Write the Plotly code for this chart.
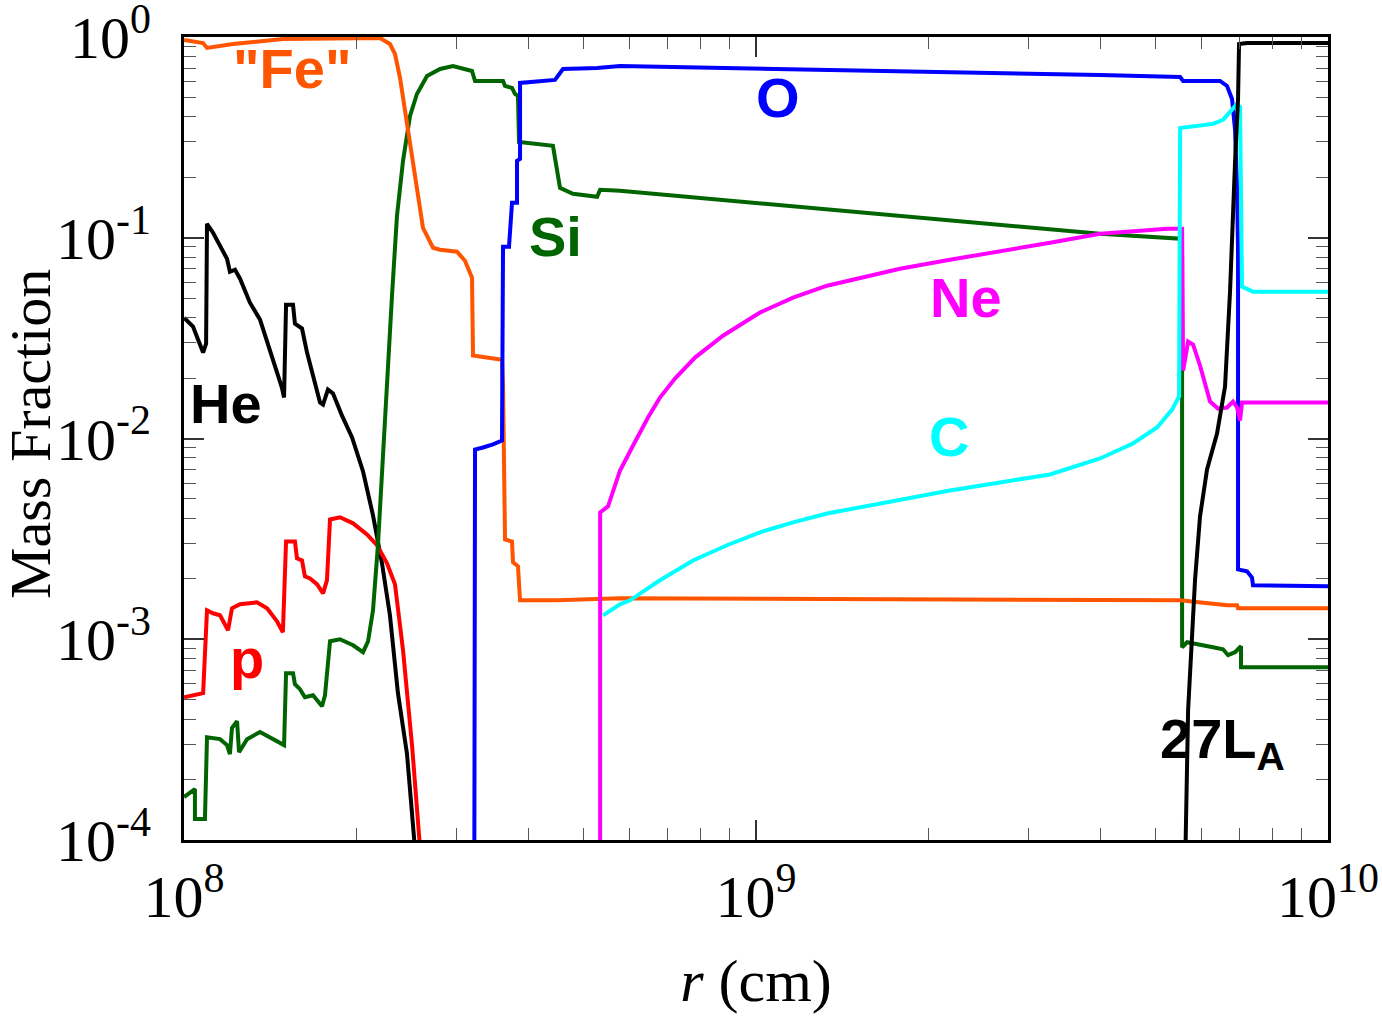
import plotly.graph_objects as go

# radius in units of 1e8 cm, mass fractions
he_r = [1.0, 1.037, 1.058, 1.080, 1.093, 1.097, 1.124, 1.189, 1.203, 1.228, 1.253, 1.304, 1.358, 1.414,
        1.483, 1.496, 1.508, 1.551, 1.563, 1.608, 1.641, 1.729, 1.750, 1.785, 1.822, 1.889, 1.967, 2.056,
        2.140, 2.219, 2.291, 2.366, 2.454, 2.544]
he_x = [0.0400, 0.0361, 0.0311, 0.0268, 0.0297, 0.1174, 0.1059, 0.0786, 0.0677, 0.0693, 0.0625, 0.0475,
        0.0391, 0.0274, 0.01794, 0.0160, 0.0464, 0.0464, 0.0373, 0.0353, 0.0268, 0.0151, 0.01476, 0.01753,
        0.01675, 0.0130, 0.01012, 6.85e-3, 4.14e-3, 2.39e-3, 1.316e-3, 5.39e-4, 2.68e-4, 7.9e-5]

p_r = [1.0, 1.037, 1.080, 1.097, 1.124, 1.156, 1.194, 1.213, 1.253, 1.341, 1.397, 1.454, 1.489, 1.508,
       1.563, 1.576, 1.608, 1.627, 1.661, 1.709, 1.750, 1.778, 1.800, 1.874, 1.975, 2.089, 2.175, 2.264,
       2.338, 2.415, 2.504, 2.596]
p_x = [5.14e-4, 5.26e-4, 5.39e-4, 1.394e-3, 1.347e-3, 1.316e-3, 1.109e-3, 1.426e-3, 1.493e-3, 1.528e-3,
       1.426e-3, 1.229e-3, 1.083e-3, 3.07e-3, 3.07e-3, 2.53e-3, 2.47e-3, 2.06e-3, 2.01e-3, 1.877e-3,
       1.694e-3, 1.966e-3, 3.95e-3, 4.05e-3, 3.78e-3, 3.33e-3, 2.94e-3, 2.39e-3, 1.877e-3, 8.82e-4,
       2.97e-4, 7.95e-5]

si_r = [1.0, 1.045, 1.045, 1.088, 1.097, 1.156, 1.189, 1.203, 1.213, 1.238, 1.248, 1.289, 1.358, 1.431,
        1.496, 1.508, 1.551, 1.563, 1.595, 1.627, 1.681, 1.743, 1.764, 1.800, 1.874, 1.975, 2.056, 2.098,
        2.140, 2.183, 2.228, 2.273, 2.310, 2.357, 2.415, 2.484, 2.554, 2.660, 2.803, 2.953, 3.188, 3.227,
        3.612, 3.641, 3.745, 3.790, 3.836, 3.852, 4.416, 4.543, 4.786, 5.275, 5.339, 5.785, 39.94, 55.14,
        55.58, 55.58, 56.71, 62.95, 65.54, 66.87, 68.79, 70.46, 70.46, 100.0]
si_x = [1.637e-4, 1.793e-4, 1.272e-4, 1.272e-4, 3.25e-4, 3.18e-4, 2.97e-4, 2.68e-4, 3.61e-4, 3.91e-4,
        2.74e-4, 3.18e-4, 3.45e-4, 3.18e-4, 2.97e-4, 6.77e-4, 6.77e-4, 5.97e-4, 5.64e-4, 5.14e-4, 5.26e-4,
        4.64e-4, 5.26e-4, 9.77e-4, 1.0e-3, 9.33e-4, 8.62e-4, 9.77e-4, 1.394e-3, 2.94e-3, 8.72e-3, 0.0262,
        0.0514, 0.1287, 0.2416, 0.4045, 0.5204, 0.6397, 0.693, 0.7173, 0.6773, 0.6039, 0.6039, 0.5705,
        0.5575, 0.5204, 0.5086, 0.3003, 0.2869, 0.1773, 0.1655, 0.160, 0.1733, 0.1713, 0.1047, 0.0989,
        0.0813, 9.12e-4, 9.66e-4, 9.12e-4, 8.92e-4, 8.33e-4, 8.62e-4, 9.23e-4, 7.26e-4, 7.26e-4]

fe_r = [1.0, 1.080, 1.097, 1.218, 1.489, 2.201, 2.291, 2.338, 2.386, 2.434, 2.504, 2.554, 2.617, 2.725,
        2.803, 3.001, 3.099, 3.188, 3.201, 3.597, 3.612, 3.641, 3.745, 3.760, 3.836, 3.868, 4.488, 5.785,
        17.85, 55.14, 66.60, 69.34, 69.62, 100.0]
fe_x = [0.966, 0.933, 0.882, 0.923, 0.977, 0.989, 0.923, 0.823, 0.625, 0.428, 0.2416, 0.1655, 0.1121,
        0.0892, 0.0872, 0.0852, 0.0768, 0.0632, 0.0259, 0.0247, 0.01814, 3.14e-3, 3.07e-3, 2.42e-3,
        2.31e-3, 1.563e-3, 1.563e-3, 1.60e-3, 1.581e-3, 1.563e-3, 1.476e-3, 1.476e-3, 1.426e-3, 1.426e-3]

o_r = [3.214, 3.214, 3.227, 3.332, 3.469, 3.597, 3.612, 3.700, 3.745, 3.821, 3.821, 3.868, 3.868, 4.452,
       4.598, 5.275, 5.785, 39.94, 55.14, 55.81, 64.75, 66.60, 67.96, 68.79, 69.34, 69.62, 69.62, 72.17,
       73.64, 73.94, 100.0]
o_x = [1e-5, 8.5e-3, 8.82e-3, 9.02e-3, 9.34e-3, 9.77e-3, 0.0902, 0.0902, 0.1493, 0.1493, 0.2416, 0.2472,
       0.5903, 0.611, 0.693, 0.7011, 0.7173, 0.647, 0.6324, 0.6039, 0.6039, 0.5705, 0.4914, 0.3445,
       0.1773, 0.0861, 2.23e-3, 2.18e-3, 2.03e-3, 1.856e-3, 1.835e-3]

ne_r = [5.339, 5.339, 5.512, 5.785, 6.071, 6.474, 6.794, 7.217, 7.823, 8.755, 10.16, 11.61, 13.31, 15.20,
        17.85, 21.83, 26.70, 32.66, 39.94, 45.60, 52.30, 55.58, 55.81, 56.94, 58.09, 59.74, 62.20, 64.23,
        66.60, 68.23, 69.34, 70.18, 70.74, 100.0]
ne_x = [1e-5, 4.28e-3, 4.59e-3, 6.93e-3, 9.02e-3, 0.01272, 0.0160, 0.01988, 0.0253, 0.0325, 0.0424,
        0.0503, 0.0577, 0.0632, 0.0701, 0.0777, 0.0852, 0.0944, 0.1047, 0.1083, 0.1109, 0.1109, 0.0218,
        0.0304, 0.0294, 0.0231, 0.01528, 0.0141, 0.01427, 0.01528, 0.01427, 0.0123, 0.0151, 0.0151]

c_r = [5.403, 5.785, 6.022, 6.794, 7.760, 8.897, 10.16, 11.61, 13.31, 15.20, 21.83, 26.70, 32.66, 39.94,
       45.60, 50.24, 53.39, 54.91, 55.14, 62.95, 65.54, 67.41, 69.34, 70.18, 70.74, 73.94, 100.0]
c_x = [1.316e-3, 1.493e-3, 1.563e-3, 1.966e-3, 2.47e-3, 2.94e-3, 3.41e-3, 3.82e-3, 4.23e-3, 4.54e-3,
       5.51e-3, 6.04e-3, 6.62e-3, 7.95e-3, 9.44e-3, 0.01134, 0.01394, 0.01618, 0.3525, 0.3691, 0.3865,
       0.4236, 0.4642, 0.4484, 0.0571, 0.0539, 0.0539]

al_r = [56.3, 56.94, 58.56, 59.74, 61.45, 63.97, 66.07, 67.41, 68.79, 69.62, 69.90, 72.17, 100.0]
al_x = [7.95e-5, 4.43e-4, 1.988e-3, 4.09e-3, 7.01e-3, 0.01059, 0.01814, 0.0539, 0.2388, 0.4914, 0.923,
        0.933, 0.933]

x_tickvals = [1e8, 1e9, 1e10]
x_ticktext = ["10<sup>8</sup>", "10<sup>9</sup>", "10<sup>10</sup>"]
y_tickvals = [1e-4, 1e-3, 1e-2, 1e-1, 1]
y_ticktext = ["10<sup>-4</sup>", "10<sup>-3</sup>", "10<sup>-2</sup>", "10<sup>-1</sup>", "10<sup>0</sup>"]

series = [
    ("He", he_r, he_x, "#000000"),
    ("p", p_r, p_x, "#FF0000"),
    ("Si", si_r, si_x, "#006400"),
    ("Fe", fe_r, fe_x, "#FF5500"),
    ("O", o_r, o_x, "#0000FF"),
    ("Ne", ne_r, ne_x, "#FF00FF"),
    ("C", c_r, c_x, "#00FFFF"),
    ("27Al", al_r, al_x, "#000000"),
]

fig = go.Figure()
for name, r, x, col in series:
    fig.add_trace(go.Scatter(x=[v * 1e8 for v in r], y=x, mode="lines", name=name,
                             line=dict(color=col, width=4), showlegend=False))

labels = [
    ('"Fe"', 0.094, 0.961, "#FF5500"),
    ("O", 0.519, 0.925, "#0000FF"),
    ("Si", 0.325, 0.751, "#006400"),
    ("Ne", 0.6836, 0.676, "#FF00FF"),
    ("C", 0.6687, 0.502, "#00FFFF"),
    ("He", 0.0367, 0.5442, "#000000"),
    ("p", 0.0551, 0.226, "#FF0000"),
    ("27L<sub>A</sub>", 0.908, 0.122, "#000000"),
]
for txt, px, py, col in labels:
    fig.add_annotation(text=txt, x=px, y=py, xref="paper", yref="paper", showarrow=False,
                       xanchor="center", yanchor="middle",
                       font=dict(family="Liberation Sans, Arial", size=56, color=col, weight="bold"))

serif = "Liberation Serif, Times New Roman, serif"

# y-axis title placed as rotated text left of the tick labels
fig.add_annotation(text="Mass Fraction", x=-0.1346, y=0.5056, xref="paper", yref="paper",
                   showarrow=False, textangle=-90, xanchor="center", yanchor="middle",
                   font=dict(family=serif, size=58, color="black"))

axis_common = dict(
    type="log", showgrid=False, zeroline=False, showline=True, linecolor="black", linewidth=3,
    mirror="allticks", ticks="inside", ticklen=20, tickwidth=1.5, tickcolor="#333333",
    tickfont=dict(family=serif, size=60, color="black"), automargin=False,
    ticklabeloverflow="allow",
    minor=dict(ticks="inside", ticklen=12, tickwidth=1.2, tickcolor="#555555", dtick="D1", showgrid=False),
)
fig.update_xaxes(**axis_common, range=[8, 10], tickvals=x_tickvals, ticktext=x_ticktext,
                 ticklabelstandoff=2,
                 title=dict(text="<i>r</i> (cm)", font=dict(family=serif, size=60, color="black"), standoff=30))
fig.update_yaxes(**axis_common, range=[-4, 0], tickvals=y_tickvals, ticktext=y_ticktext,
                 ticklabelstandoff=18)

fig.update_layout(width=1382, height=1017, margin=dict(l=184, r=54, t=37, b=177),
                  plot_bgcolor="white", paper_bgcolor="white")
fig.write_html("out.html")
